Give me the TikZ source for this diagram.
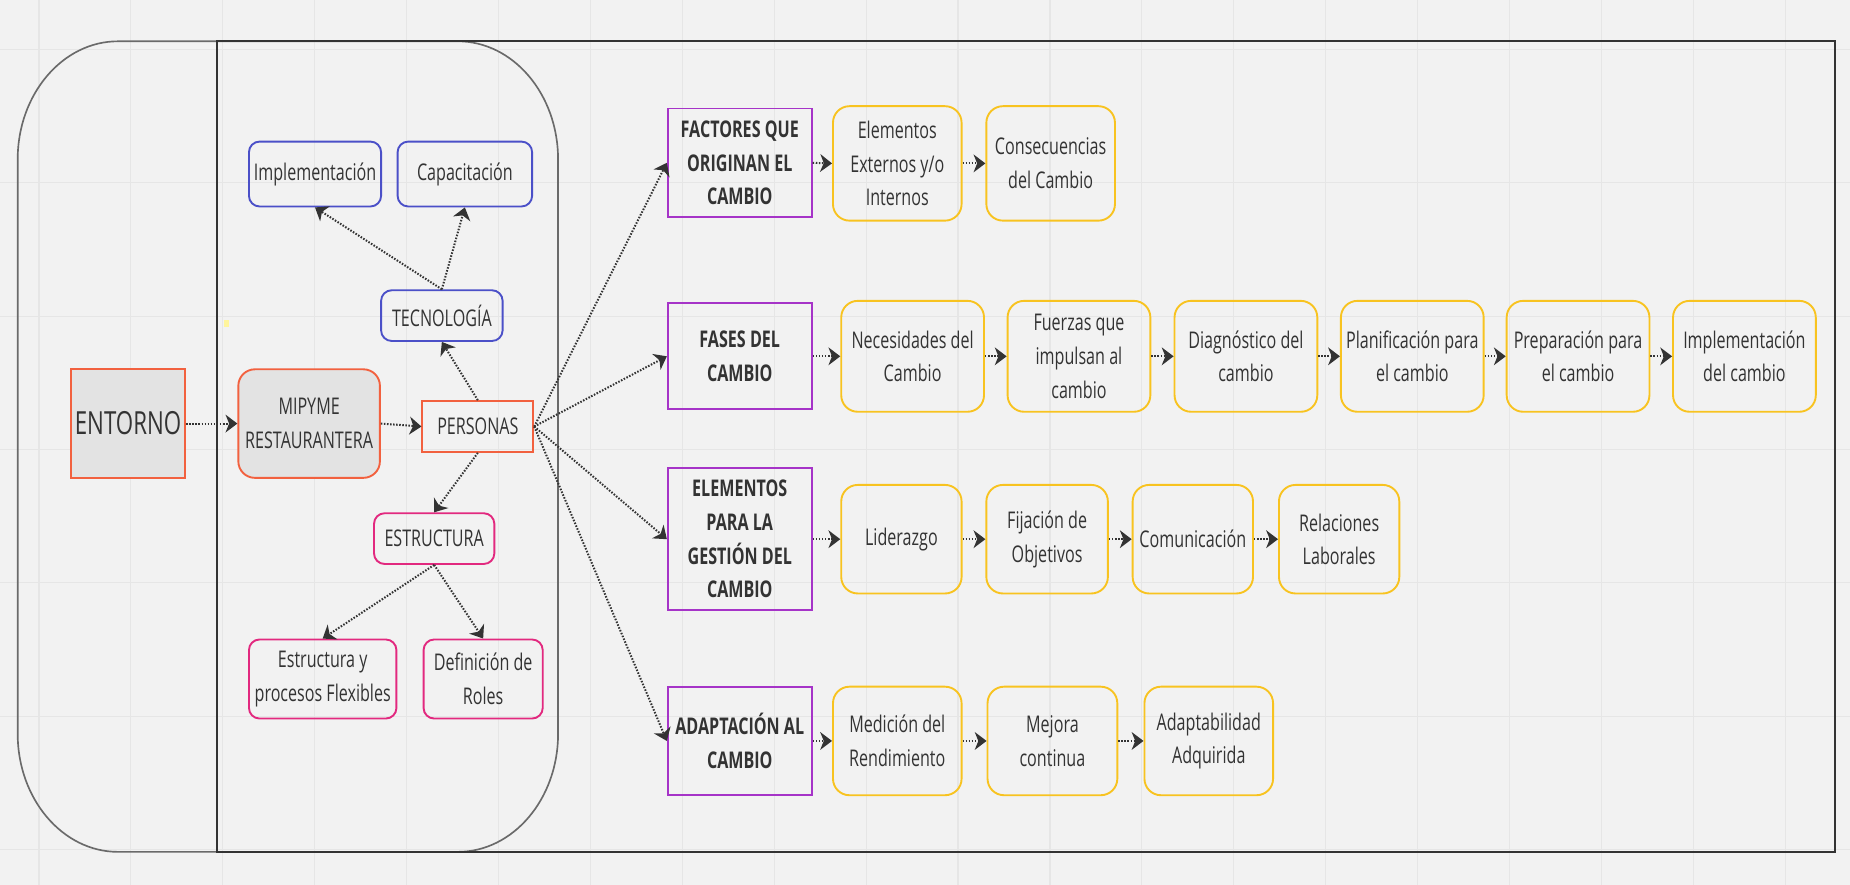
\documentclass[tikz,border=0pt]{standalone}
\usepackage{fontspec}
\setmainfont{Open Sans}[FakeStretch=0.7]
\usetikzlibrary{arrows.meta}
\definecolor{bg}{HTML}{F2F2F2}
\definecolor{gridc}{HTML}{E6E6E6}
\definecolor{txt}{HTML}{333333}
\definecolor{redc}{HTML}{F2613F}
\definecolor{grayfill}{HTML}{E3E3E3}
\definecolor{bluec}{HTML}{4B50C8}
\definecolor{pinkc}{HTML}{E2297F}
\definecolor{purplec}{HTML}{A634C8}
\definecolor{yellowc}{HTML}{F8C320}
\definecolor{framec}{HTML}{333333}
\definecolor{roundc}{HTML}{6A6A6A}
\definecolor{markc}{HTML}{FFF59D}
\tikzset{
  base/.style={draw, line width=1.6pt, text=txt, align=center, inner sep=0pt,
    font=\fontsize{19.5}{28.5}\selectfont},
  redbox/.style={base, draw=redc},
  bluebox/.style={base, draw=bluec, rounded corners=9pt},
  pinkbox/.style={base, draw=pinkc, rounded corners=9pt},
  purplebox/.style={base, draw=purplec, font=\fontsize{19.5}{28.5}\selectfont\bfseries,
    minimum width=122pt},
  yellowbox/.style={base, draw=yellowc, rounded corners=14pt},
  conn/.style={draw=txt, line width=1.7pt, dash pattern=on 1.3pt off 1.3pt,
    -{Stealth[length=10pt,width=15pt,inset=3pt]}},
}
\begin{document}
\begin{tikzpicture}[x=1pt,y=-1pt]
\useasboundingbox (0,0) rectangle (1568,750);
\fill[bg] (0,0) rectangle (1568,750);
% faint grid
\foreach \i in {0,...,19} \draw[gridc, line width=1pt] ({33+77.9*\i},0) -- ({33+77.9*\i},750);
\foreach \j in {0,...,6} \draw[gridc, line width=1pt] (0,{42+113*\j}) -- (1568,{42+113*\j});
% frames
\draw[roundc, line width=1.4pt] (100,35) -- (388,35) .. controls (434.9,35) and (473,79.8) .. (473,135) -- (473,622) .. controls (473,677.2) and (434.9,722) .. (388,722) -- (100,722) .. controls (53.1,722) and (15,677.2) .. (15,622) -- (15,135) .. controls (15,79.8) and (53.1,35) .. (100,35) -- cycle;
\draw[framec, line width=2pt] (184,35) rectangle (1555,722);
\fill[markc] (190,271) rectangle (194,277);

% left part
\node[redbox, fill=grayfill, minimum width=97pt, minimum height=92pt, font=\fontsize{27}{32}\selectfont] (ent) at (108.5,359) {ENTORNO};
\node[redbox, fill=grayfill, rounded corners=14pt, minimum width=120pt, minimum height=92pt] (mip) at (262,359) {MIPYME\\RESTAURANTERA};
\node[redbox, minimum width=94pt, minimum height=43pt] (per) at (405,361.5) {PERSONAS};
\node[bluebox, minimum width=103pt, minimum height=43pt] (tec) at (374.5,267.5) {TECNOLOGÍA};
\node[bluebox, minimum width=112pt, minimum height=55pt] (imp) at (267,147.5) {Implementación};
\node[bluebox, minimum width=114pt, minimum height=55pt] (cap) at (394,147.5) {Capacitación};
\node[pinkbox, minimum width=102pt, minimum height=43pt] (est) at (368,456.5) {ESTRUCTURA};
\node[pinkbox, minimum width=125pt, minimum height=67pt] (eyp) at (273.5,575.5) {Estructura y\\procesos Flexibles};
\node[pinkbox, minimum width=101pt, minimum height=67pt] (def) at (409.5,575.5) {Definición de\\Roles};

% purple heads
\node[purplebox, minimum height=92pt] (fac) at (627,138) {FACTORES QUE\\ORIGINAN EL\\CAMBIO};
\node[purplebox, minimum height=90pt] (fas) at (627,302) {FASES DEL\\CAMBIO};
\node[purplebox, minimum height=120pt] (ele) at (627,457) {ELEMENTOS\\PARA LA\\GESTIÓN DEL\\CAMBIO};
\node[purplebox, minimum height=92pt] (ada) at (627,628) {ADAPTACIÓN AL\\CAMBIO};

% row 1
\node[yellowbox, minimum width=109pt, minimum height=97pt] (r1a) at (760.5,138.5) {Elementos\\Externos y/o\\Internos};
\node[yellowbox, minimum width=109pt, minimum height=97pt] (r1b) at (890.5,138.5) {Consecuencias\\del Cambio};
% row 2
\node[yellowbox, minimum width=121pt, minimum height=94pt] (r2a) at (773.5,302) {Necesidades del\\Cambio};
\node[yellowbox, minimum width=121pt, minimum height=94pt] (r2b) at (914.5,302) {Fuerzas que\\impulsan al\\cambio};
\node[yellowbox, minimum width=121pt, minimum height=94pt] (r2c) at (1056,302) {Diagnóstico del\\cambio};
\node[yellowbox, minimum width=121pt, minimum height=94pt] (r2d) at (1197,302) {Planificación para\\el cambio};
\node[yellowbox, minimum width=121pt, minimum height=94pt] (r2e) at (1337.5,302) {Preparación para\\el cambio};
\node[yellowbox, minimum width=121pt, minimum height=94pt] (r2f) at (1478.5,302) {Implementación\\del cambio};
% row 3
\node[yellowbox, minimum width=102pt, minimum height=92pt] (r3a) at (764,457) {Liderazgo};
\node[yellowbox, minimum width=103pt, minimum height=92pt] (r3b) at (887.5,457) {Fijación de\\Objetivos};
\node[yellowbox, minimum width=102pt, minimum height=92pt] (r3c) at (1011,457) {Comunicación};
\node[yellowbox, minimum width=102pt, minimum height=92pt] (r3d) at (1135,457) {Relaciones\\Laborales};
% row 4
\node[yellowbox, minimum width=109pt, minimum height=92pt] (r4a) at (760.5,628) {Medición del\\Rendimiento};
\node[yellowbox, minimum width=110pt, minimum height=92pt] (r4b) at (892,628) {Mejora\\continua};
\node[yellowbox, minimum width=109pt, minimum height=92pt] (r4c) at (1024.5,628) {Adaptabilidad\\Adquirida};

% connectors
\draw[conn] (ent.east) -- (mip.west);
\draw[conn] (mip.east) -- (per.west);
\draw[conn] (per.north) -- (tec.south);
\draw[conn] (tec.north) -- (imp.south);
\draw[conn] (tec.north) -- (cap.south);
\draw[conn] (per.south) -- (est.north);
\draw[conn] (est.south) -- (eyp.north);
\draw[conn] (est.south) -- (def.north);
\draw[conn] (per.east) -- (fac.west);
\draw[conn] (per.east) -- (fas.west);
\draw[conn] (per.east) -- (ele.west);
\draw[conn] (per.east) -- (ada.west);
\draw[conn] (fac.east) -- (r1a.west);
\draw[conn] (r1a.east) -- (r1b.west);
\draw[conn] (fas.east) -- (r2a.west);
\draw[conn] (r2a.east) -- (r2b.west);
\draw[conn] (r2b.east) -- (r2c.west);
\draw[conn] (r2c.east) -- (r2d.west);
\draw[conn] (r2d.east) -- (r2e.west);
\draw[conn] (r2e.east) -- (r2f.west);
\draw[conn] (ele.east) -- (r3a.west);
\draw[conn] (r3a.east) -- (r3b.west);
\draw[conn] (r3b.east) -- (r3c.west);
\draw[conn] (r3c.east) -- (r3d.west);
\draw[conn] (ada.east) -- (r4a.west);
\draw[conn] (r4a.east) -- (r4b.west);
\draw[conn] (r4b.east) -- (r4c.west);
\end{tikzpicture}
\end{document}
